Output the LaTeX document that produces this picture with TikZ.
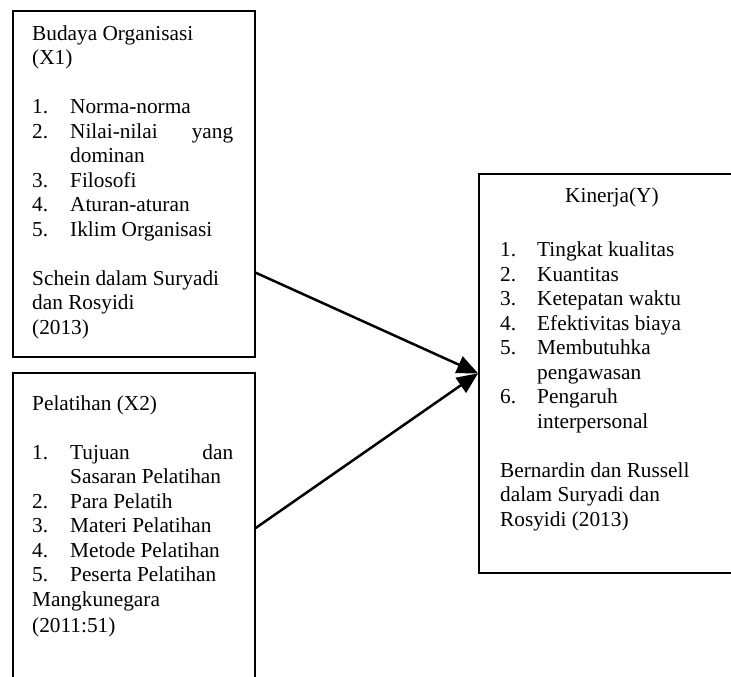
\documentclass[tikz,border=0pt]{standalone}
\usepackage{fontspec}
\setmainfont{Liberation Serif}
\usetikzlibrary{arrows.meta,positioning}
\newcommand{\lnum}[1]{\makebox[38pt][l]{#1}}
\newcommand{\knum}[1]{\makebox[37pt][l]{#1}}

\begin{document}
\begin{tikzpicture}[x=1pt,y=1pt,
box/.style={draw,line width=1.7pt,anchor=north west,inner sep=0pt},
txt/.style={anchor=north west,align=left,inner sep=0pt,font=\fontsize{21.3pt}{24.5pt}\selectfont},
arr/.style={-{Triangle[length=21pt,width=18pt]},line width=2.5pt}
]
\clip (0,0) rectangle (731,-677);
\node[box,minimum width=242pt,minimum height=346pt] (bud) at (12,-10) {};
\node[box,minimum width=242pt,minimum height=340pt] (pel) at (12,-372) {};
\node[box,minimum width=300pt,minimum height=399pt] (kin) at (478,-173) {};
\node[txt] (budtxt) at ([xshift=20pt,yshift=-12.85pt]bud.north west) {\strut Budaya Organisasi\\(X1)\\[24.5pt]
\lnum{1.}Norma-norma\\
\lnum{2.}\makebox[163pt][s]{Nilai-nilai\hfill yang}\\
\hspace*{38pt}dominan\\
\lnum{3.}Filosofi\\
\lnum{4.}Aturan-aturan\\
\lnum{5.}Iklim Organisasi\\[24.5pt]
Schein dalam Suryadi\\dan Rosyidi\\(2013)};
\node[txt] (peltxt) at ([xshift=20pt,yshift=-20.85pt]pel.north west) {\strut Pelatihan (X2)\\[24.5pt]
\lnum{1.}\makebox[163pt][s]{Tujuan\hfill dan}\\
\hspace*{38pt}Sasaran Pelatihan\\
\lnum{2.}Para Pelatih\\
\lnum{3.}Materi Pelatihan\\
\lnum{4.}Metode Pelatihan\\
\lnum{5.}Peserta Pelatihan\\
Mangkunegara\\[2pt]
(2011:51)};
\node[txt] (kintxt) at ([xshift=22pt,yshift=-11.85pt]kin.north west) {\strut\hspace*{65pt}Kinerja(Y)\\[30pt]
\knum{1.}Tingkat kualitas\\
\knum{2.}Kuantitas\\
\knum{3.}Ketepatan waktu\\
\knum{4.}Efektivitas biaya\\
\knum{5.}Membutuhka\\
\hspace*{37pt}pengawasan\\
\knum{6.}Pengaruh\\
\hspace*{37pt}interpersonal\\[24.5pt]
Bernardin dan Russell\\dalam Suryadi dan\\Rosyidi (2013)};
\coordinate (budout) at ([yshift=85pt]bud.south east);
\coordinate (pelout) at ([yshift=-156pt]pel.north east);
\draw[arr] (budout) -- (kin.west);
\draw[arr] (pelout) -- (kin.west);
\end{tikzpicture}
\end{document}
